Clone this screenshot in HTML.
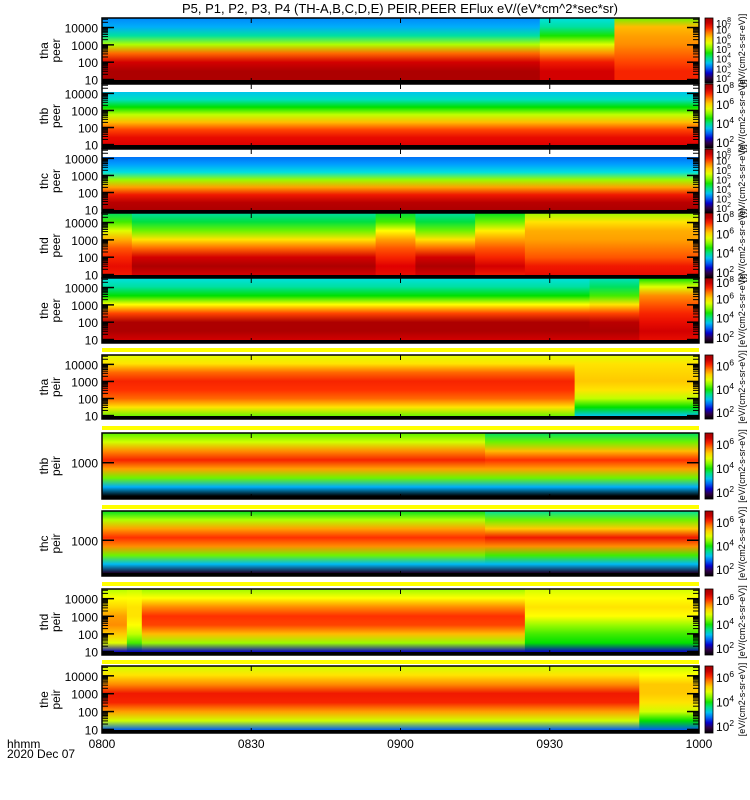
<!DOCTYPE html>
<html><head><meta charset="utf-8"><style>
body{margin:0;background:#fff;}
svg{display:block;font-family:"Liberation Sans",sans-serif;}
</style></head><body>
<svg id="chart" width="750" height="800" viewBox="0 0 750 800"></svg>
<script>
// ---- data ----
const panelNames = ["tha peer","thb peer","thc peer","thd peer","the peer","tha peir","thb peir","thc peir","thd peir","the peir"];
// segment start times (minutes after 0800) per panel
const segStarts = [
 [0,88,103],
 [0],
 [0],
 [0,6,55,63,75,85],
 [0,98,108],
 [0,95],
 [0,77],
 [0,77],
 [0,5,8,85],
 [0,108]
];
// log10 flux at 8 energy levels (bottom -> top) for each segment
const segFlux = [
 [[7.9,7.9,7.6,6.8,5.3,4.0,3.4,3.2],[7.6,7.6,7.3,6.6,5.6,4.6,4.0,3.8],[7.2,7.2,7.0,6.8,6.6,6.5,6.3,5.0]],
 [[7.5,7.4,7.0,6.3,5.4,4.5,3.9,3.6]],
 [[7.9,7.8,7.3,6.5,5.2,3.8,3.3,3.1]],
 [[7.3,7.4,7.2,6.9,6.4,5.6,4.8,4.2],[7.6,7.9,7.6,6.8,6.0,5.0,4.3,4.0],[7.4,7.5,7.2,6.9,6.5,5.8,4.8,4.3],[7.6,7.9,7.6,6.8,6.0,5.0,4.3,4.0],[7.3,7.6,7.2,6.9,6.5,5.9,5.0,4.4],[7.4,7.3,6.9,6.7,6.5,6.4,6.0,5.2]],
 [[7.6,7.9,7.9,7.0,5.8,4.5,4.0,3.8],[7.6,7.9,7.8,7.0,6.0,4.8,4.2,3.9],[7.4,7.6,7.4,7.2,6.9,6.6,5.6,4.5]],
 [[5.0,6.0,6.8,7.1,7.2,6.8,6.0,5.6],[3.6,4.5,5.4,6.0,6.2,6.1,6.0,5.6]],
 [[1.5,3.4,5.0,6.5,7.2,6.6,5.5,4.9],[1.5,3.4,5.0,6.5,7.1,6.3,5.0,4.2]],
 [[1.8,3.5,5.0,6.6,7.1,6.5,5.3,4.4],[1.8,3.5,4.8,6.6,7.3,6.2,5.0,4.0]],
 [[2.5,5.6,6.2,6.6,6.5,6.1,5.8,5.3],[2.5,4.8,5.4,5.8,6.0,6.0,5.8,5.4],[2.5,5.2,6.3,7.0,7.1,6.6,5.8,5.2],[2.5,4.5,4.8,5.2,5.8,6.0,5.8,5.5]],
 [[3.0,5.5,6.5,7.2,7.3,6.6,6.0,5.5],[3.0,4.5,5.5,6.0,6.2,6.2,5.8,5.4]]
];
const timeTicks = ["0800","0830","0900","0930","1000"];
const timeTickMin = [0,30,60,90,120];
const peerTickLabels = ["10","100","1000","10000"];
const peerTickLogs = [1,2,3,4];
const peerCbLabels = ["2","3","4","5","6","7","8"];
const peerCbLabels2 = ["2","4","6","8"];
const peirCbLabels = ["2","4","6"];

// ---- layout ----
const X0=102, X1=699, TMAX=120;
const panelY=[[18,83],[84,148],[149,213],[213,278],[278,343],[355,419],[433,499],[511,576],[589,655],[666,733]];
const bandsY=[348,426,505,582,660];
const svg=document.getElementById('chart');
const NS='http://www.w3.org/2000/svg';
function xs(m){return X0+(X1-X0)*Math.min(m,TMAX)/TMAX;}
function mk(tag,attrs,parent){const e=document.createElementNS(NS,tag);for(const k in attrs)e.setAttribute(k,attrs[k]);(parent||svg).appendChild(e);return e;}
const cmap=[[1.5,[0,0,0]],[2,[48,0,64]],[2.6,[0,0,224]],[3.3,[0,160,255]],[3.8,[0,224,224]],[4.5,[0,224,0]],[5.3,[176,255,0]],[5.8,[255,255,0]],[6.5,[255,160,0]],[7.1,[255,48,0]],[7.5,[224,0,0]],[8,[160,0,0]]];
function col(v){if(v<=cmap[0][0])return 'rgb(0,0,0)';for(let i=1;i<cmap.length;i++){if(v<=cmap[i][0]){const a=cmap[i-1],b=cmap[i],t=(v-a[0])/(b[0]-a[0]);return 'rgb('+a[1].map((c,j)=>Math.round(c+(b[1][j]-c)*t)).join(',')+')';}}return 'rgb(160,0,0)';}
const defs=mk('defs',{});
const cbg=mk('linearGradient',{id:'cbgrad',x1:0,y1:1,x2:0,y2:0},defs);
for(let i=0;i<=13;i++){const v=1.5+6.7*i/13;mk('stop',{offset:(i/13).toFixed(3),'stop-color':col(v)},cbg);}

const title=mk('text',{x:400,y:13,'text-anchor':'middle','font-size':13,fill:'#000'});
title.textContent='P5, P1, P2, P3, P4 (TH-A,B,C,D,E) PEIR,PEER EFlux eV/(eV*cm^2*sec*sr)';



bandsY.forEach((y)=>{const r=mk('rect',{x:X0,y:y,width:X1-X0,height:4,fill:'#ffff00'});

});

panelNames.forEach((name,p)=>{
  const [y0,y1]=panelY[p];
  const g=mk('g',{});
  
  
  const whiteTop=(p===1||p===2)?8:0;
  const starts=segStarts[p];
  starts.forEach((s,k)=>{
    const e=(k+1<starts.length)?starts[k+1]:TMAX;
    const w=xs(e)-xs(s);
    if(w<=0)return;
    const id='gr'+p+'_'+k;
    const lg=mk('linearGradient',{id:id,x1:0,y1:1,x2:0,y2:0},defs);
    const f=segFlux[p][k];
    f.forEach((v,i)=>mk('stop',{offset:(i/(f.length-1)).toFixed(3),'stop-color':col(v)},lg));
    const r=mk('rect',{x:xs(s),y:y0+whiteTop,width:w+0.5,height:y1-y0-whiteTop-3,fill:'url(#'+id+')'},g);
    
    
  });
  mk('rect',{x:X0,y:y1-3,width:X1-X0,height:3,fill:'#000'},g);
  mk('rect',{x:X0,y:y0,width:X1-X0,height:y1-y0,fill:'none',stroke:'#000','stroke-width':1.5},g);
  const peirMid=(p===6||p===7);
  if(peirMid){
    const ty=y0+(y1-y0)*0.45;
    mk('line',{x1:X0,x2:X0+12,y1:ty,y2:ty,stroke:'#000','stroke-width':1.5},g);
    mk('line',{x1:X1,x2:X1-12,y1:ty,y2:ty,stroke:'#000','stroke-width':1.5},g);
    mk('text',{x:X0-4,y:ty+5,'text-anchor':'end','font-size':12},g).textContent='1000';
  } else {
    const lo=0.8, hi=4.55;
    const yl=l=>y1-(y1-y0)*(l-lo)/(hi-lo);
    peerTickLogs.forEach((l,i)=>{
      const ty=yl(l);
      mk('line',{x1:X0,x2:X0+12,y1:ty,y2:ty,stroke:'#000','stroke-width':1.5},g);
      mk('line',{x1:X1,x2:X1-12,y1:ty,y2:ty,stroke:'#000','stroke-width':1.5},g);
      for(let m=2;m<10;m++){const my=yl(l+Math.log10(m));if(my>y0)
        {mk('line',{x1:X0,x2:X0+6,y1:my,y2:my,stroke:'#000'},g);mk('line',{x1:X1,x2:X1-6,y1:my,y2:my,stroke:'#000'},g);}}
      const t=mk('text',{x:X0-4,y:ty+5,'text-anchor':'end','font-size':12},g);
      t.textContent=peerTickLabels[i];
    });
  }
  const parts=name.split(' ');
  const cy=(y0+y1)/2;
  const yt=mk('text',{transform:'translate(48,'+cy+') rotate(-90)','text-anchor':'middle','font-size':12},g);
  yt.textContent=parts[0];
  
  
  const yt2=mk('text',{transform:'translate(60,'+cy+') rotate(-90)','text-anchor':'middle','font-size':12},g);
  yt2.textContent=parts[1];
  // colorbar
  const cb=mk('g',{});
  
  
  const peer=p<5;
  const vmin=peer?1.5:1.5, vmax=peer?8.2:7.0;
  mk('rect',{x:705,y:y0,width:8,height:y1-y0,fill:'url(#cbgrad)',stroke:'#000','stroke-width':0.8},cb);
  const labs=(p===0||p===2)?peerCbLabels:(peer?peerCbLabels2:peirCbLabels);
  labs.forEach((lab)=>{
    const v=+lab;
    let ty=y1-(y1-y0)*(v-vmin)/(vmax-vmin);
    if(ty<y0+5)ty=y0+5;
    const fs=(p===0||p===2)?10:12;
    const t=mk('text',{x:716,y:ty+4,'font-size':fs},cb);
    t.textContent='10';
    const s=mk('tspan',{'font-size':fs*0.7,dy:-5},t); s.textContent=lab;
  });
  const ut=mk('text',{transform:'translate(745,'+cy+') rotate(-90)','text-anchor':'middle','font-size':9,fill:'#000'},cb);
  ut.textContent='[eV/(cm2-s-sr-eV)]';
});
// x axis
timeTicks.forEach((lab,i)=>{
  const x=xs(timeTickMin[i]);
  panelY.forEach(([y0,y1])=>{mk('line',{x1:x,x2:x,y1:y1,y2:y1-5,stroke:'#000'});mk('line',{x1:x,x2:x,y1:y0,y2:y0+5,stroke:'#000'});});
  const t=mk('text',{x:x,y:748,'text-anchor':'middle','font-size':12});
  t.textContent=lab;
  
  
});
mk('text',{x:7,y:748,'font-size':12}).textContent='hhmm';
mk('text',{x:7,y:758,'font-size':12}).textContent='2020 Dec 07';
</script>
</body></html>
